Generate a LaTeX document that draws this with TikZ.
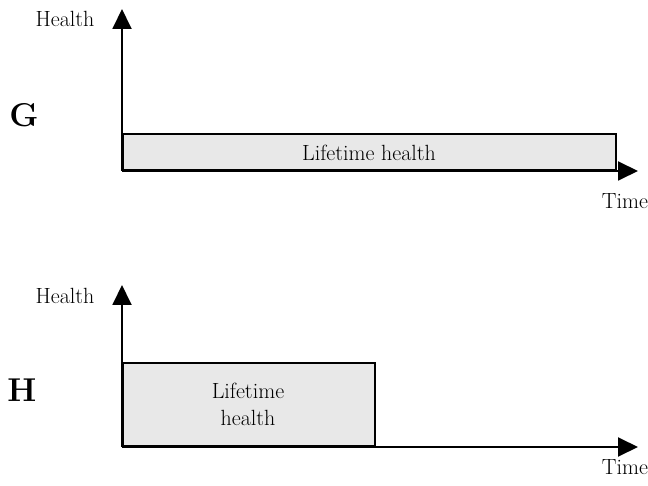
\documentclass[tikz,border=0pt]{standalone}
\usetikzlibrary{arrows.meta}
\definecolor{boxfill}{HTML}{E8E8E8}
\begin{document}
\begin{tikzpicture}[x=1pt,y=-1pt,
  axis/.style={line width=1.9pt,-{Triangle[length=20pt,width=19pt]}},
  hbox/.style={draw,line width=1.9pt,fill=boxfill},
  lbl/.style={font=\fontsize{22}{27}\selectfont,inner sep=0pt},
  panel/.style={font=\fontsize{33}{38}\selectfont\bfseries,inner sep=0pt}]
\useasboundingbox (0,0) rectangle (648,486);
% panel G
\coordinate (g0) at (122,171);
\coordinate (gy) at (122,9);
\coordinate (gx) at (638,171);
\node[hbox,minimum width=493pt,minimum height=36pt,anchor=south west,inner sep=0pt] (gbox) at (g0) {};
\node[lbl] (gtxt) at (369,153) {Lifetime health};
\draw[axis] (g0) -- (gy);
\draw[axis] (g0) -- (gx);
\node[lbl] (gh) at (65,19) {Health};
\node[lbl] (gt) at (625,201) {Time};
\node[panel] (gl) at (24,115) {G};
% panel H
\coordinate (h0) at (122,447);
\coordinate (hy) at (122,285);
\coordinate (hx) at (638,447);
\node[hbox,minimum width=252pt,minimum height=83pt,anchor=south west,inner sep=0pt] (hbox) at (h0) {};
\node[lbl,align=center] (htxt) at (248,404) {Lifetime\\health};
\draw[axis] (h0) -- (hy);
\draw[axis] (h0) -- (hx);
\node[lbl] (hh) at (65,296) {Health};
\node[lbl] (ht) at (625,467) {Time};
\node[panel] (hl) at (22,390) {H};
\end{tikzpicture}
\end{document}
